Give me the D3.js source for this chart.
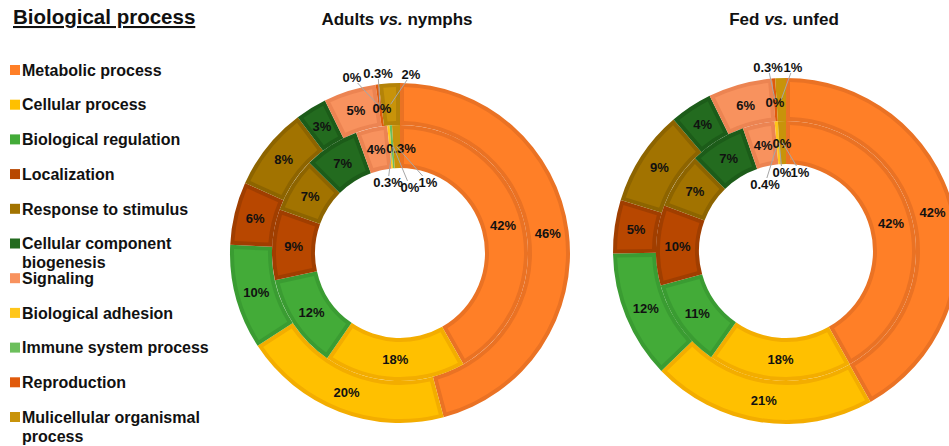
<!DOCTYPE html>
<html>
<head>
<meta charset="utf-8">
<style>
  body { margin: 0; background: #fff; font-family: "Liberation Sans", Arial, sans-serif; }
  .legend-title { font-size: 20.5px; font-weight: bold; fill: #111; text-decoration: underline; }
  .legend text.item { font-size: 16px; font-weight: bold; fill: #111; }
  .chart-title { font-size: 17px; font-weight: bold; fill: #111; }
  .slice-label { font-size: 13px; font-weight: bold; fill: #111; }
  .leader { stroke: #a6a6a6; stroke-width: 1; fill: none; }
</style>
</head>
<body>
<script src="https://d3js.org/d3.v7.min.js"></script>
<script>
// categories, in pie order (clockwise from 12 o'clock)
var categories = ["Metabolic process", "Cellular process", "Biological regulation", "Localization",
  "Response to stimulus", "Cellular component biogenesis", "Signaling", "Biological adhesion",
  "Immune system process", "Reproduction", "Mulicellular organismal process"];
var legendLines = [["Metabolic process"], ["Cellular process"], ["Biological regulation"], ["Localization"],
  ["Response to stimulus"], ["Cellular component", "biogenesis"], ["Signaling"], ["Biological adhesion"],
  ["Immune system process"], ["Reproduction"], ["Mulicellular organismal", "process"]];

// percentages
var adultsOuter = [46, 20, 10, 6, 8, 3, 5, 0, 0, 0.3, 2];
var adultsInner = [42, 18, 12, 9, 7, 7, 4, 0.3, 0.3, 0, 1];
var fedOuter    = [42, 21, 12, 5, 9, 4, 6, 0, 0, 0.3, 1];
var fedInner    = [42, 18, 11, 10, 7, 7, 4, 0.4, 0, 0, 1];

var fills   = ["#ff7f27", "#ffc000", "#43ab38", "#b84700", "#a27300", "#236b1f", "#f8925e", "#ffc61a", "#6cbf5c", "#e05a0c", "#c8930a"];
var borders = ["#ea7224", "#f3ad00", "#3a9c32", "#a03e00", "#8d6400", "#1c5c19", "#ec8452", "#f3b400", "#5eae4f", "#c84e08", "#b48308"];

var W = 949, H = 446;
var svg = d3.select("body").append("svg")
    .attr("width", W)
    .attr("height", H);

// ---- legend
var legend = svg.append("g").attr("class", "legend");
legend.append("text")
    .attr("class", "legend-title")
    .attr("x", 13)
    .attr("y", 24)
    .text("Biological process");

var legendY = d3.scaleLinear().domain([0, categories.length - 1]).range([70, 417]);

var item = legend.selectAll("g.item")
  .data(legendLines)
  .enter().append("g")
    .attr("transform", function(d, i) { return "translate(10," + legendY(i) + ")"; });

item.append("rect")
    .attr("x", 0).attr("y", -5)
    .attr("width", 10).attr("height", 10)
    .attr("fill", function(d, i) { return fills[i]; });

item.append("text")
    .attr("class", "item")
    .selectAll("tspan")
    .data(function(d) { return d; })
    .enter().append("tspan")
      .attr("x", 12)
      .attr("y", function(d, j) { return j * 19; })
      .attr("dy", "0.36em")
      .text(function(d) { return d; });

// ---- charts
var charts = [
  { title: "Adults", sub: "nymphs", cx: 400, cy: 253, r0: 85, r1: 128, r2: 170, tx: 397, outer: adultsOuter, inner: adultsInner },
  { title: "Fed", sub: "unfed", cx: 786, cy: 251, r0: 87, r1: 130, r2: 173, tx: 784, outer: fedOuter, inner: fedInner }
];

// tiny slices whose labels sit away from the centroid (offsets from chart centre)
var smallLabels = [
  { chart: 0, ring: "outer", i: 7, x: -48, y: -176, leader: true },
  { chart: 0, ring: "outer", i: 8, x: -18, y: -145, leader: false },
  { chart: 0, ring: "outer", i: 9, x: -22, y: -180, leader: true },
  { chart: 0, ring: "outer", i: 10, x: 11, y: -179, leader: true },
  { chart: 0, ring: "inner", i: 7, x: 1, y: -105, leader: false },
  { chart: 0, ring: "inner", i: 8, x: -12, y: -71, leader: true },
  { chart: 0, ring: "inner", i: 9, x: 10, y: -66, leader: true },
  { chart: 0, ring: "inner", i: 10, x: 28, y: -71, leader: true },
  { chart: 1, ring: "outer", i: 7, x: -11, y: -149, leader: false },
  { chart: 1, ring: "outer", i: 8, x: -11, y: -149, leader: false },
  { chart: 1, ring: "outer", i: 9, x: -18, y: -184, leader: true },
  { chart: 1, ring: "outer", i: 10, x: 7, y: -184, leader: true },
  { chart: 1, ring: "inner", i: 7, x: -21, y: -67, leader: true },
  { chart: 1, ring: "inner", i: 8, x: -4, y: -108, leader: false },
  { chart: 1, ring: "inner", i: 9, x: -4, y: -79, leader: true },
  { chart: 1, ring: "inner", i: 10, x: 14, y: -79, leader: true }
];

var pie = d3.pie().sort(null).value(function(d) { return d; });
var fmt = function(v) { return (v % 1 ? v.toFixed(1) : v) + "%"; };

charts.forEach(function(c, ci) {
  var t = svg.append("text")
      .attr("class", "chart-title")
      .attr("x", c.tx)
      .attr("y", 25)
      .attr("text-anchor", "middle");
  t.append("tspan").text(c.title + " ");
  t.append("tspan").attr("font-style", "italic").text("vs.");
  t.append("tspan").text(" " + c.sub);

  var g = svg.append("g").attr("transform", "translate(" + c.cx + "," + c.cy + ")");
  var rings = [
    { name: "outer", values: c.outer, ri: c.r1, ro: c.r2 },
    { name: "inner", values: c.inner, ri: c.r0, ro: c.r1 }
  ];
  var sliceLayer = g.append("g");
  var labelLayer = g.append("g");

  rings.forEach(function(ring) {
    var arcs = pie(ring.values);
    var base = d3.arc().innerRadius(ring.ri).outerRadius(ring.ro);
    var inset = d3.arc().innerRadius(ring.ri + 4).outerRadius(ring.ro - 4)
        .padAngle(0.08).padRadius(100);
    var mid = d3.arc().innerRadius((ring.ri + ring.ro) / 2).outerRadius((ring.ri + ring.ro) / 2);

    var s = sliceLayer.append("g").selectAll("g")
      .data(arcs)
      .enter().append("g");

    s.append("path")
        .attr("d", base)
        .attr("fill", function(d, i) { return d.data < 2 ? fills[i] : borders[i]; });
    s.filter(function(d) { return d.data >= 2; }).append("path")
        .attr("d", inset)
        .attr("fill", function(d) { return fills[d.index]; });

    var drawn = {};
    arcs.forEach(function(d, i) {
      var cen = mid.centroid(d);
      var pos = cen, lead = false;
      var sl = smallLabels.find(function(o) { return o.chart === ci && o.ring === ring.name && o.i === i; });
      if (sl) { pos = [sl.x, sl.y]; lead = sl.leader; }
      // two labels with the same text on the same spot print as one
      var key = pos.join(",") + fmt(d.data);
      if (drawn[key]) return;
      drawn[key] = true;
      var txt = labelLayer.append("text")
          .attr("class", "slice-label")
          .attr("x", pos[0])
          .attr("y", pos[1])
          .attr("dy", "0.35em")
          .attr("text-anchor", "middle")
          .text(fmt(d.data));
      if (lead) {
        var hw = txt.node().getComputedTextLength() / 2 + 1, hh = 6;
        var dx = cen[0] - pos[0], dy = cen[1] - pos[1];
        var k = Math.min(hw / Math.abs(dx || 1e-6), hh / Math.abs(dy || 1e-6));
        labelLayer.append("line")
            .attr("class", "leader")
            .attr("x1", pos[0] + dx * k).attr("y1", pos[1] + dy * k)
            .attr("x2", cen[0]).attr("y2", cen[1]);
      }
    });
  });
});
</script>
</body>
</html>
